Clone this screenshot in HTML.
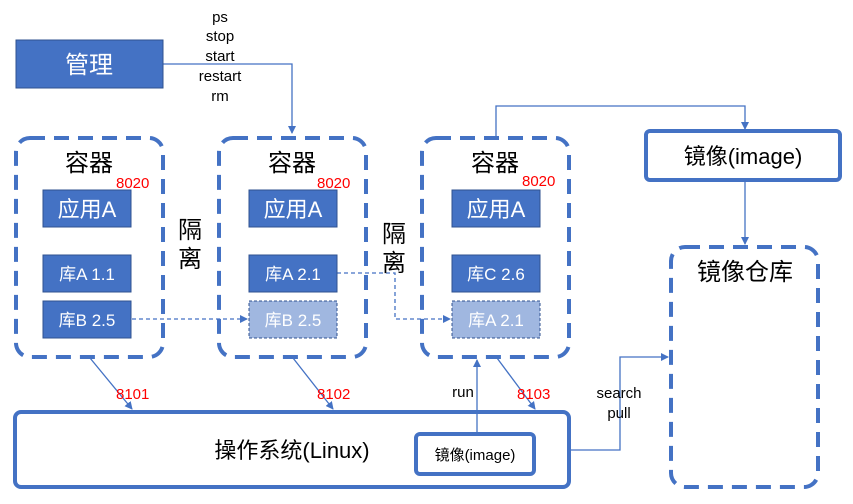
<!DOCTYPE html>
<html><head><meta charset="utf-8"><style>
html,body{margin:0;padding:0;background:#fff;}
svg{display:block;}
text{font-family:"Liberation Sans","Noto Sans CJK SC",sans-serif;}
</style></head><body>
<svg width="853" height="504" viewBox="0 0 853 504" xmlns="http://www.w3.org/2000/svg">
<defs>
<marker id="a" markerWidth="8" markerHeight="8" refX="7" refY="4" orient="auto" markerUnits="userSpaceOnUse">
<path d="M0,0 L8,4 L0,8 z" fill="#4472c4"/></marker>
</defs>
<g fill="none" stroke="#4472c4">
<!-- containers -->
<rect x="16" y="138" width="147" height="219" rx="14" stroke-width="4" stroke-dasharray="15,9"/>
<rect x="219" y="138" width="147" height="219" rx="14" stroke-width="4" stroke-dasharray="15,9"/>
<rect x="422" y="138" width="147" height="219" rx="14" stroke-width="4" stroke-dasharray="15,9"/>
<rect x="671" y="247" width="147" height="240" rx="14" stroke-width="4" stroke-dasharray="15,9"/>
<rect x="15" y="412" width="554" height="75" rx="6" stroke-width="4"/>
<rect x="416" y="434" width="118" height="40" rx="4" stroke-width="4"/>
<rect x="646" y="131" width="194" height="49" rx="4" stroke-width="4"/>
<!-- connectors -->
<g stroke-width="1.3">
<path d="M163,64 H292 V133" marker-end="url(#a)"/>
<path d="M496,137 V106 H745 V129" marker-end="url(#a)"/>
<path d="M745,181 V244" marker-end="url(#a)"/>
<path d="M90,358 L132,409" marker-end="url(#a)"/>
<path d="M293,358 L333,409" marker-end="url(#a)"/>
<path d="M497,358 L535,409" marker-end="url(#a)"/>
<path d="M477,433 V360" marker-end="url(#a)"/>
<path d="M570,450 H620 V357 H668" marker-end="url(#a)"/>
<path d="M132,319 H247" stroke-dasharray="4,3" marker-end="url(#a)"/>
<path d="M337,273 H395 V319 H450" stroke-dasharray="4,3" marker-end="url(#a)"/>
</g>
</g>
<rect x="16" y="40" width="147" height="48" fill="#4472c4" stroke="#2f528f"/>
<text x="89" y="73" fill="#fff" font-size="24" text-anchor="middle">管理</text>
<g font-size="15" text-anchor="middle" fill="#000">
<text x="220" y="22">ps</text><text x="220" y="41">stop</text><text x="220" y="61">start</text><text x="220" y="81">restart</text><text x="220" y="101">rm</text>
<text x="463" y="397">run</text>
<text x="619" y="398">search</text><text x="619" y="418">pull</text>
</g>
<g font-size="24" text-anchor="middle" fill="#000">
<text x="89" y="171">容器</text><text x="292" y="171">容器</text><text x="495" y="171">容器</text>
<text x="190" y="238">隔</text><text x="190" y="267">离</text>
<text x="394" y="242">隔</text><text x="394" y="271">离</text>
<text x="745" y="280">镜像仓库</text>
</g>
<text x="743" y="164" font-size="22" text-anchor="middle">镜像(image)</text>
<text x="292" y="458" font-size="22" text-anchor="middle">操作系统(Linux)</text>
<text x="475" y="460" font-size="15" text-anchor="middle">镜像(image)</text>
<g font-size="15" fill="#f00">
<text x="116" y="188">8020</text><text x="317" y="188">8020</text><text x="522" y="186">8020</text>
<text x="116" y="399">8101</text><text x="317" y="399">8102</text><text x="517" y="399">8103</text>
</g>
<g stroke="#2f528f" stroke-width="1">
<rect x="43" y="190" width="88" height="37" fill="#4472c4"/>
<rect x="43" y="255" width="88" height="37" fill="#4472c4"/>
<rect x="43" y="301" width="88" height="37" fill="#4472c4"/>
<rect x="249" y="190" width="88" height="37" fill="#4472c4"/>
<rect x="249" y="255" width="88" height="37" fill="#4472c4"/>
<rect x="249" y="301" width="88" height="37" fill="#a0b7e0" stroke-dasharray="3,2"/>
<rect x="452" y="190" width="88" height="37" fill="#4472c4"/>
<rect x="452" y="255" width="88" height="37" fill="#4472c4"/>
<rect x="452" y="301" width="88" height="37" fill="#a0b7e0" stroke-dasharray="3,2"/>
</g>
<g fill="#fff" text-anchor="middle">
<g font-size="22"><text x="87" y="217">应用A</text><text x="293" y="217">应用A</text><text x="496" y="217">应用A</text></g>
<g font-size="17">
<text x="87" y="280">库A 1.1</text><text x="87" y="326">库B 2.5</text>
<text x="293" y="280">库A 2.1</text><text x="293" y="326">库B 2.5</text>
<text x="496" y="280">库C 2.6</text><text x="496" y="326">库A 2.1</text>
</g></g>
</svg>
</body></html>
